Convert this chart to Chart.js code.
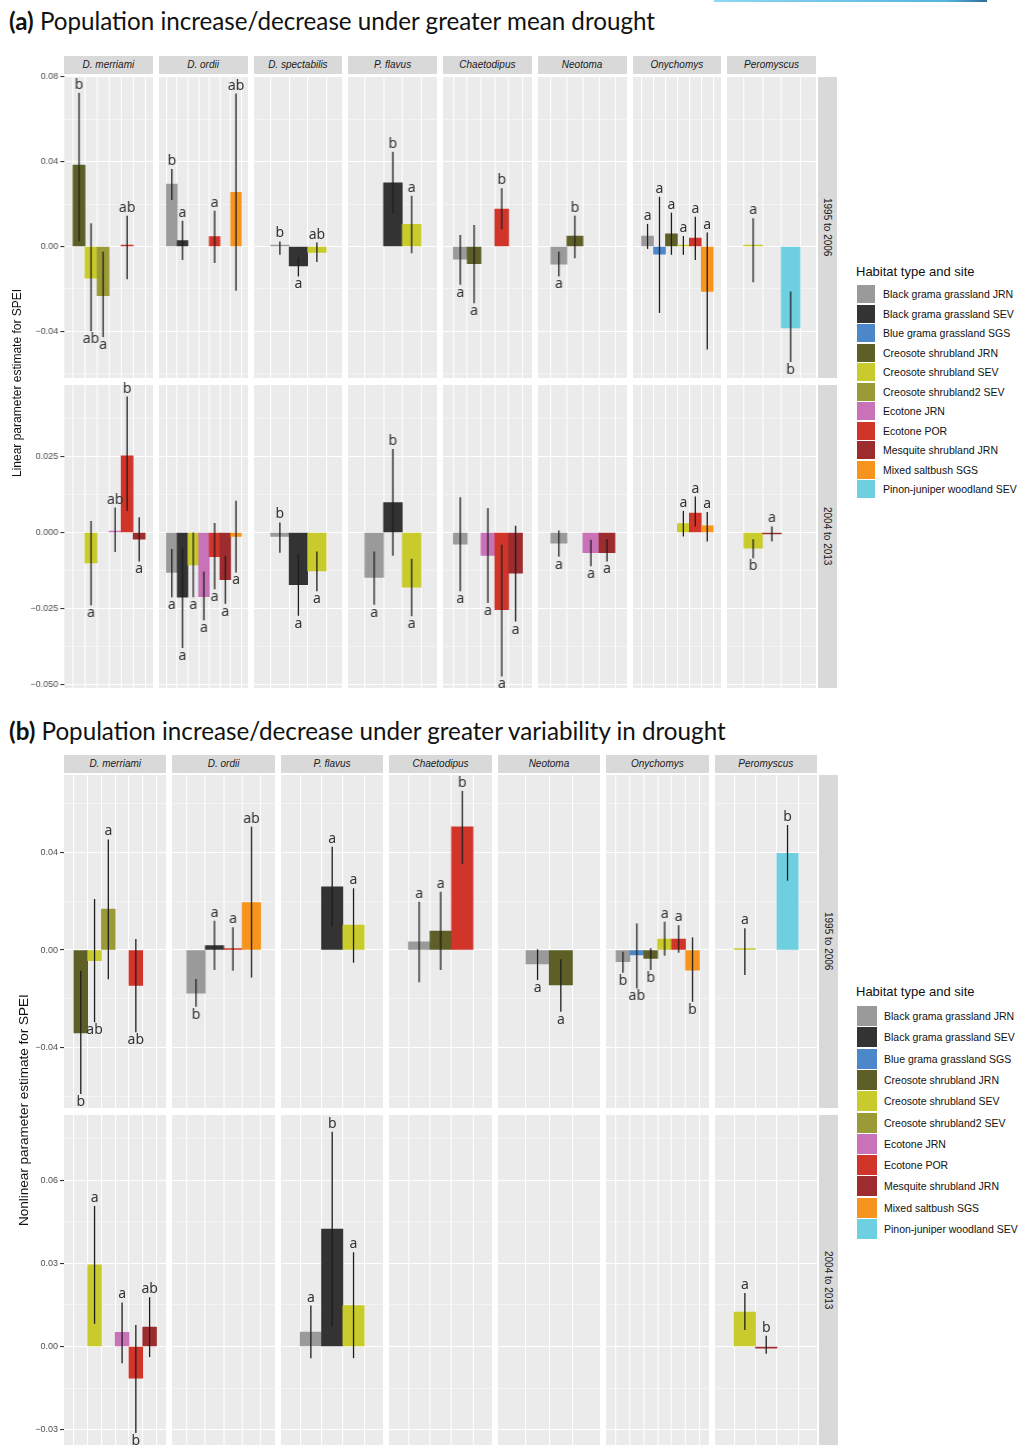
<!DOCTYPE html>
<html>
<head>
<meta charset="utf-8">
<script src="https://cdn.jsdelivr.net/npm/chart.js@4.4.1/dist/chart.umd.min.js"></script>
<style>
  body { margin: 0; background: #fff; width: 1018px; height: 1445px; overflow: hidden; position: relative;
         font-family: "Liberation Sans", Arial, sans-serif; }
  .abs { position: absolute; }
  .title { font-family: Lato, sans-serif; font-size: 24.2px; color: #111; white-space: nowrap; line-height: 29px; }
  .title b { font-weight: 700; }
  .strip { background: #d9d9d9; color: #1a1a1a; font-size: 10px; font-style: italic; text-align: center; line-height: 18px; }
  .rstrip { background: #d9d9d9; color: #1a1a1a; font-size: 10px; writing-mode: vertical-rl; text-align: center; }
  .ytitle { color: #111; writing-mode: vertical-rl; transform: rotate(180deg); white-space: nowrap; text-align: center; }
  .legtitle { font-size: 13px; color: #111; white-space: nowrap; line-height: 16px; }
  .legtext { font-size: 10.5px; color: #111; white-space: nowrap; }
</style>
</head>
<body>
<div class="abs" style="left:714px;top:0;width:273px;height:2px;background:linear-gradient(to right,#8fd8f2,#52b4e0 85%,#2d6e9a);"></div>
<script>
// habitat types (legend order) and their fill colours
const habitatCodes = ["BgJRN", "BgSEV", "BlSGS", "CrJRN", "CrSEV", "Cr2SEV", "EcJRN", "EcPOR", "MsJRN", "MxSGS", "PjSEV"];
const habitatNames = [
  "Black grama grassland JRN", "Black grama grassland SEV", "Blue grama grassland SGS",
  "Creosote shrubland JRN", "Creosote shrubland SEV", "Creosote shrubland2 SEV",
  "Ecotone JRN", "Ecotone POR", "Mesquite shrubland JRN", "Mixed saltbush SGS", "Pinon-juniper woodland SEV"
];
const habitatColors = ["#9a9a9a", "#333333", "#4b87c9", "#5d5f27", "#c9ca2b", "#9a9a36",
                       "#c972b8", "#d1352a", "#9c2c2e", "#f7941e", "#6dcfdf"];

const speciesMean = ["D. merriami", "D. ordii", "D. spectabilis", "P. flavus", "Chaetodipus", "Neotoma", "Onychomys", "Peromyscus"];
const speciesVar = ["D. merriami", "D. ordii", "P. flavus", "Chaetodipus", "Neotoma", "Onychomys", "Peromyscus"];
const periods = ["1995 to 2006", "2004 to 2013"];

// species, habitat, estimate, lower, upper, letter, letter side
const meanEarly = [
  ["D. merriami", "CrJRN", 0.0384, 0.0024, 0.0725, "b", "up"],
  ["D. merriami", "CrSEV", -0.0149, -0.0400, 0.0110, "ab", "dn"],
  ["D. merriami", "Cr2SEV", -0.0232, -0.0427, -0.0024, "a", "dn"],
  ["D. merriami", "EcPOR", 0.0002, -0.0154, 0.0146, "ab", "up"],
  ["D. ordii", "BgJRN", 0.0295, 0.0220, 0.0366, "b", "up"],
  ["D. ordii", "BgSEV", 0.0028, -0.0063, 0.0122, "a", "up"],
  ["D. ordii", "EcPOR", 0.0047, -0.0078, 0.0169, "a", "up"],
  ["D. ordii", "MxSGS", 0.0256, -0.0208, 0.0722, "ab", "up"],
  ["D. spectabilis", "BgJRN", 0.0003, -0.0039, 0.0024, "b", "up"],
  ["D. spectabilis", "BgSEV", -0.0091, -0.0141, -0.0050, "a", "dn"],
  ["D. spectabilis", "CrSEV", -0.0027, -0.0073, 0.0019, "ab", "up"],
  ["P. flavus", "BgSEV", 0.0301, 0.0157, 0.0447, "b", "up"],
  ["P. flavus", "CrSEV", 0.0105, -0.0031, 0.0240, "a", "up"],
  ["Chaetodipus", "BgJRN", -0.0059, -0.0180, 0.0055, "a", "dn"],
  ["Chaetodipus", "CrJRN", -0.0081, -0.0267, 0.0102, "a", "dn"],
  ["Chaetodipus", "EcPOR", 0.0177, 0.0082, 0.0275, "b", "up"],
  ["Neotoma", "BgJRN", -0.0083, -0.0141, -0.0024, "a", "dn"],
  ["Neotoma", "CrJRN", 0.0050, -0.0055, 0.0146, "b", "up"],
  ["Onychomys", "BgJRN", 0.0050, -0.0011, 0.0107, "a", "up"],
  ["Onychomys", "BlSGS", -0.0036, -0.0313, 0.0235, "a", "up"],
  ["Onychomys", "CrJRN", 0.0060, -0.0039, 0.0160, "a", "up"],
  ["Onychomys", "CrSEV", 0.0003, -0.0039, 0.0050, "a", "up"],
  ["Onychomys", "EcPOR", 0.0040, -0.0063, 0.0141, "a", "up"],
  ["Onychomys", "MxSGS", -0.0212, -0.0486, 0.0066, "a", "up"],
  ["Peromyscus", "CrSEV", 0.0002, -0.0168, 0.0134, "a", "up"],
  ["Peromyscus", "PjSEV", -0.0384, -0.0545, -0.0212, "b", "dn"]
];
const meanLate = [
  ["D. merriami", "CrSEV", -0.0100, -0.0239, 0.0038, "a", "dn"],
  ["D. merriami", "EcJRN", 0.0005, -0.0064, 0.0082, "ab", "up"],
  ["D. merriami", "EcPOR", 0.0252, 0.0071, 0.0446, "b", "up"],
  ["D. merriami", "MsJRN", -0.0022, -0.0095, 0.0050, "a", "dn"],
  ["D. ordii", "BgJRN", -0.0131, -0.0212, -0.0054, "a", "dn"],
  ["D. ordii", "BgSEV", -0.0212, -0.0379, -0.0051, "a", "dn"],
  ["D. ordii", "CrSEV", -0.0106, -0.0212, 0.0000, "a", "dn"],
  ["D. ordii", "EcJRN", -0.0210, -0.0288, -0.0128, "a", "dn"],
  ["D. ordii", "EcPOR", -0.0079, -0.0186, 0.0031, "a", "dn"],
  ["D. ordii", "MsJRN", -0.0155, -0.0234, -0.0076, "a", "dn"],
  ["D. ordii", "MxSGS", -0.0013, -0.0131, 0.0104, "a", "dn"],
  ["D. spectabilis", "BgJRN", -0.0013, -0.0066, 0.0033, "b", "up"],
  ["D. spectabilis", "BgSEV", -0.0171, -0.0273, -0.0070, "a", "dn"],
  ["D. spectabilis", "CrSEV", -0.0126, -0.0193, -0.0062, "a", "dn"],
  ["P. flavus", "BgJRN", -0.0147, -0.0237, -0.0062, "a", "dn"],
  ["P. flavus", "BgSEV", 0.0098, -0.0076, 0.0274, "b", "up"],
  ["P. flavus", "CrSEV", -0.0179, -0.0275, -0.0086, "a", "dn"],
  ["Chaetodipus", "BgJRN", -0.0038, -0.0193, 0.0116, "a", "dn"],
  ["Chaetodipus", "EcJRN", -0.0075, -0.0231, 0.0080, "a", "dn"],
  ["Chaetodipus", "EcPOR", -0.0253, -0.0472, -0.0040, "a", "dn"],
  ["Chaetodipus", "MsJRN", -0.0133, -0.0292, 0.0022, "a", "dn"],
  ["Neotoma", "BgJRN", -0.0035, -0.0079, 0.0007, "a", "dn"],
  ["Neotoma", "EcJRN", -0.0066, -0.0111, -0.0024, "a", "dn"],
  ["Neotoma", "MsJRN", -0.0066, -0.0095, -0.0022, "a", "dn"],
  ["Onychomys", "CrSEV", 0.0029, -0.0013, 0.0071, "a", "up"],
  ["Onychomys", "EcPOR", 0.0064, 0.0020, 0.0118, "a", "up"],
  ["Onychomys", "MxSGS", 0.0022, -0.0029, 0.0067, "a", "up"],
  ["Peromyscus", "CrSEV", -0.0051, -0.0084, -0.0022, "b", "dn"],
  ["Peromyscus", "MsJRN", -0.0004, -0.0029, 0.0020, "a", "up"]
];
const varEarly = [
  ["D. merriami", "CrJRN", -0.0339, -0.0590, -0.0085, "b", "dn"],
  ["D. merriami", "CrSEV", -0.0044, -0.0296, 0.0209, "ab", "dn"],
  ["D. merriami", "Cr2SEV", 0.0168, -0.0120, 0.0453, "a", "up"],
  ["D. merriami", "EcPOR", -0.0145, -0.0337, 0.0045, "ab", "dn"],
  ["D. ordii", "BgJRN", -0.0177, -0.0232, -0.0119, "b", "dn"],
  ["D. ordii", "BgSEV", 0.0018, -0.0082, 0.0120, "a", "up"],
  ["D. ordii", "EcPOR", 0.0002, -0.0085, 0.0093, "a", "up"],
  ["D. ordii", "MxSGS", 0.0194, -0.0113, 0.0505, "ab", "up"],
  ["P. flavus", "BgSEV", 0.0259, 0.0095, 0.0423, "a", "up"],
  ["P. flavus", "CrSEV", 0.0102, -0.0052, 0.0253, "a", "up"],
  ["Chaetodipus", "BgJRN", 0.0034, -0.0132, 0.0198, "a", "up"],
  ["Chaetodipus", "CrJRN", 0.0078, -0.0082, 0.0239, "a", "up"],
  ["Chaetodipus", "EcPOR", 0.0505, 0.0352, 0.0652, "b", "up"],
  ["Neotoma", "BgJRN", -0.0057, -0.0123, 0.0003, "a", "dn"],
  ["Neotoma", "CrJRN", -0.0143, -0.0253, -0.0038, "a", "dn"],
  ["Onychomys", "BgJRN", -0.0048, -0.0093, -0.0007, "b", "dn"],
  ["Onychomys", "BlSGS", -0.0020, -0.0157, 0.0109, "ab", "dn"],
  ["Onychomys", "CrJRN", -0.0034, -0.0082, 0.0007, "b", "dn"],
  ["Onychomys", "CrSEV", 0.0045, -0.0023, 0.0116, "a", "up"],
  ["Onychomys", "EcPOR", 0.0045, -0.0011, 0.0102, "a", "up"],
  ["Onychomys", "MxSGS", -0.0082, -0.0212, 0.0052, "b", "dn"],
  ["Peromyscus", "CrSEV", 0.0002, -0.0102, 0.0089, "a", "up"],
  ["Peromyscus", "PjSEV", 0.0396, 0.0284, 0.0512, "b", "up"]
];
const varLate = [
  ["D. merriami", "CrSEV", 0.0295, 0.0082, 0.0507, "a", "up"],
  ["D. merriami", "EcJRN", 0.0051, -0.0060, 0.0159, "a", "up"],
  ["D. merriami", "EcPOR", -0.0114, -0.0312, 0.0078, "b", "dn"],
  ["D. merriami", "MsJRN", 0.0070, -0.0038, 0.0178, "ab", "up"],
  ["P. flavus", "BgJRN", 0.0052, -0.0042, 0.0148, "a", "up"],
  ["P. flavus", "BgSEV", 0.0424, 0.0072, 0.0775, "b", "up"],
  ["P. flavus", "CrSEV", 0.0148, -0.0042, 0.0340, "a", "up"],
  ["Peromyscus", "CrSEV", 0.0124, 0.0060, 0.0193, "a", "up"],
  ["Peromyscus", "MsJRN", -0.0003, -0.0026, 0.0039, "b", "up"]
];

// y axis limits and tick labels per facet row
const rangeMeanEarly = [-0.062, 0.080];
const rangeMeanLate = [-0.051, 0.0484];
const rangeVarEarly = [-0.0647, 0.0717];
const rangeVarLate = [-0.0355, 0.0835];
const ticksMeanEarly = [-0.04, 0.00, 0.04, 0.08];
const labelsMeanEarly = ["\u22120.04", "0.00", "0.04", "0.08"];
const ticksMeanLate = [-0.05, -0.025, 0.00, 0.025];
const labelsMeanLate = ["\u22120.050", "\u22120.025", "0.000", "0.025"];
const ticksVarEarly = [-0.04, 0.00, 0.04];
const labelsVarEarly = ["\u22120.04", "0.00", "0.04"];
const ticksVarLate = [-0.03, 0.00, 0.03, 0.06];
const labelsVarLate = ["\u22120.03", "0.00", "0.03", "0.06"];

const PAD = 8;      // canvas overhang above/below the panel
const AXIS_W = 46;  // room for y tick labels in the first column

function add(cls, left, top, width, height, html) {
  const d = document.createElement("div");
  d.className = "abs " + cls;
  d.style.left = left + "px";
  d.style.top = top + "px";
  if (width != null) d.style.width = width + "px";
  if (height != null) d.style.height = height + "px";
  if (html != null) d.innerHTML = html;
  document.body.appendChild(d);
  return d;
}

function buildYTicks(major, labels, range) {
  const step = major[1] - major[0];
  const out = major.map((v, i) => ({ value: v, isMajor: true, lab: labels[i] }));
  major.forEach(v => [v - step / 2, v + step / 2].forEach(m => {
    if (m > range[0] && m < range[1] && !out.some(t => Math.abs(t.value - m) < 1e-9)) {
      out.push({ value: m, isMajor: false, lab: "" });
    }
  }));
  return out.sort((a, b) => a.value - b.value);
}

function errorPlugin(rows, cats) {
  return {
    id: "errorBars",
    beforeDraw(chart) {
      const a = chart.chartArea, c = chart.ctx;
      c.save();
      c.fillStyle = "#ebebeb";
      c.fillRect(a.left, a.top, a.right - a.left, a.bottom - a.top);
      c.restore();
    },
    afterDatasetsDraw(chart) {
      const c = chart.ctx, x = chart.scales.x, y = chart.scales.y;
      c.save();
      c.strokeStyle = "#1e1e1e";
      c.lineWidth = 1.3;
      c.fillStyle = "#333";
      c.font = "14px 'Noto Sans', sans-serif";
      c.textAlign = "center";
      c.textBaseline = "alphabetic";
      rows.forEach(r => {
        const px = x.getPixelForValue(cats.indexOf(r[1]));
        const yLo = y.getPixelForValue(r[3]), yHi = y.getPixelForValue(r[4]);
        c.beginPath();
        c.moveTo(px, yLo);
        c.lineTo(px, yHi);
        c.stroke();
        if (r[6] === "up") c.fillText(r[5], px, yHi - 4);
        else c.fillText(r[5], px, yLo + 12);
      });
      c.restore();
    }
  };
}

function drawFacet(left, top, width, height, cats, rows, range, major, labels, axis) {
  const axisW = axis ? AXIS_W : 0;
  const box = add("", left - axisW, top - PAD, width + axisW, height + 2 * PAD);
  const canvas = document.createElement("canvas");
  box.appendChild(canvas);
  const yTicks = buildYTicks(major, labels, range);
  new Chart(canvas, {
    type: "bar",
    data: {
      datasets: [{
        data: rows.map(r => ({ x: cats.indexOf(r[1]), y: r[2] })),
        backgroundColor: rows.map(r => habitatColors[habitatCodes.indexOf(r[1])]),
        barPercentage: 1,
        categoryPercentage: 1,
        minBarLength: 1.5
      }]
    },
    options: {
      responsive: true,
      maintainAspectRatio: false,
      animation: false,
      events: [],
      layout: { padding: { top: PAD, bottom: PAD, left: 0, right: 0 } },
      plugins: { legend: { display: false }, tooltip: { enabled: false } },
      scales: {
        x: {
          type: "linear",
          min: -0.6,
          max: cats.length - 0.4,
          afterBuildTicks: s => { s.ticks = cats.map((c, i) => ({ value: i })); },
          afterFit: s => { s.height = 0; },
          ticks: { display: false },
          grid: { color: "#ffffff", lineWidth: 1.1, drawTicks: false },
          border: { display: false }
        },
        y: {
          min: range[0],
          max: range[1],
          afterBuildTicks: s => { s.ticks = yTicks.map(t => Object.assign({}, t)); },
          afterFit: s => { s.width = axisW; },
          ticks: {
            display: axis,
            padding: 2,
            autoSkip: false,
            color: "#4d4d4d",
            font: { family: "'Liberation Sans', Arial, sans-serif", size: 9 },
            callback: (v, i, t) => t[i].lab
          },
          grid: {
            color: ctx => ctx.tick && ctx.tick.isMajor ? "#ffffff" : "rgba(255,255,255,0.8)",
            lineWidth: ctx => ctx.tick && ctx.tick.isMajor ? 1.1 : 0.55,
            drawTicks: axis,
            tickLength: 4,
            tickColor: ctx => ctx.tick && ctx.tick.isMajor ? "#333333" : "rgba(0,0,0,0)"
          },
          border: { display: false }
        }
      }
    },
    plugins: [errorPlugin(rows, cats)]
  });
}

function drawPanel(p) {
  add("title", 9, p.titleTop, null, null, "<b>" + p.tag + "</b> " + p.title);
  const n = p.species.length;
  const w = (p.right - p.left - (n - 1) * p.gap) / n;
  p.species.forEach((sp, i) => {
    const x0 = p.left + i * (w + p.gap);
    add("strip", x0, p.stripTop, w, 18, sp);
    const used = p.data[0].concat(p.data[1]).filter(r => r[0] === sp).map(r => r[1]);
    const cats = habitatCodes.filter(h => used.includes(h));
    p.rows.forEach((rw, k) => {
      const rows = p.data[k].filter(r => r[0] === sp);
      drawFacet(x0, rw[0], w, rw[1] - rw[0], cats, rows, p.ranges[k], p.ticks[k], p.labels[k], i === 0);
    });
  });
  p.rows.forEach((rw, k) => {
    add("rstrip", p.right + 2, rw[0], 19, rw[1] - rw[0], "<span style='display:inline-block'>" + periods[k] + "</span>")
      .style.lineHeight = "19px";
  });
  const yt = add("ytitle", p.yTitleX - 9, p.rows[0][0], 18, p.rows[1][1] - p.rows[0][0], p.yTitle);
  yt.style.lineHeight = "18px";
  yt.style.fontSize = p.yTitleSize + "px";
  add("legtitle", 856, p.legendTop, null, null, "Habitat type and site");
  habitatNames.forEach((name, i) => {
    const ky = p.legendTop + p.keyOffset + i * p.legStep;
    add("", 857, ky, p.key, p.key).style.background = habitatColors[i];
    const t = add("legtext", p.textX, ky, null, p.key, name);
    t.style.lineHeight = p.key + "px";
  });
}

drawPanel({
  tag: "(a)", title: "Population increase/decrease under greater mean drought", titleTop: 6,
  species: speciesMean, data: [meanEarly, meanLate],
  ranges: [rangeMeanEarly, rangeMeanLate],
  ticks: [ticksMeanEarly, ticksMeanLate], labels: [labelsMeanEarly, labelsMeanLate],
  left: 64, right: 816, gap: 6, stripTop: 56, rows: [[77, 378], [385, 688]],
  yTitle: "Linear parameter estimate for SPEI", yTitleX: 17, yTitleSize: 12,
  legendTop: 264, keyOffset: 21, legStep: 19.5, key: 18, textX: 883
});
drawPanel({
  tag: "(b)", title: "Population increase/decrease under greater variability in drought", titleTop: 716,
  species: speciesVar, data: [varEarly, varLate],
  ranges: [rangeVarEarly, rangeVarLate],
  ticks: [ticksVarEarly, ticksVarLate], labels: [labelsVarEarly, labelsVarLate],
  left: 64, right: 817, gap: 6, stripTop: 755, rows: [[775, 1108], [1115, 1445]],
  yTitle: "Nonlinear parameter estimate for SPEI", yTitleX: 24, yTitleSize: 13.5,
  legendTop: 984, keyOffset: 22, legStep: 21.3, key: 20, textX: 884
});
</script>
</body>
</html>
